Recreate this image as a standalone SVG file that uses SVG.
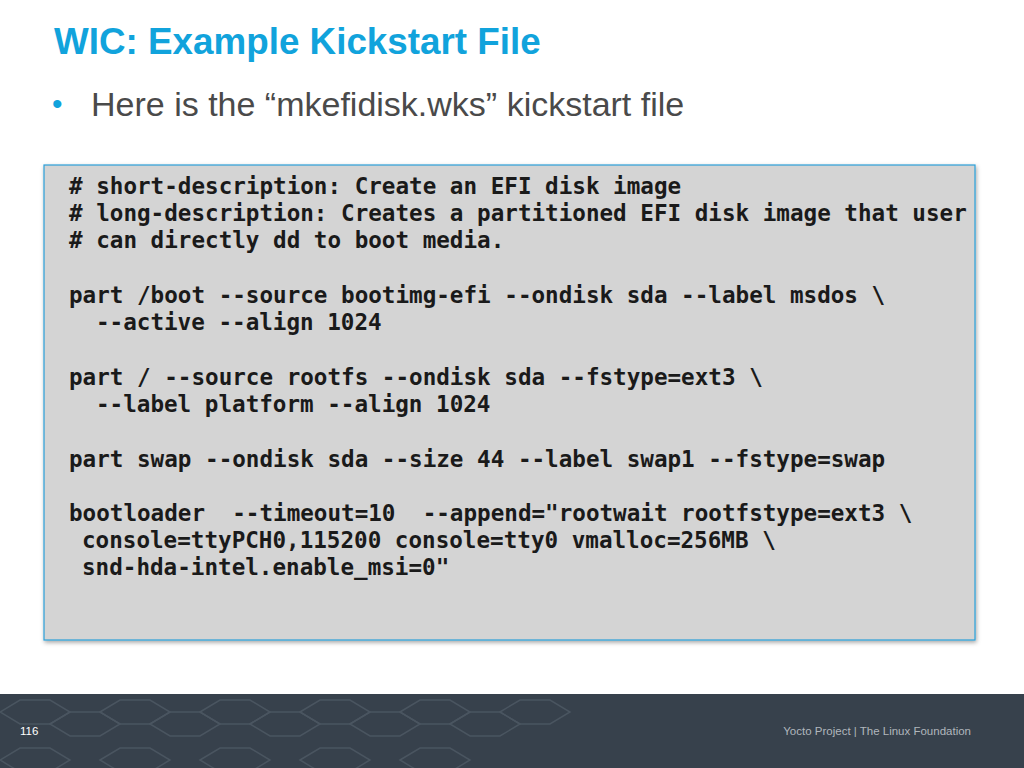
<svg xmlns="http://www.w3.org/2000/svg" width="1024" height="768" viewBox="0 0 1024 768">
<defs>
<style>
.code{font-family:"DejaVu Sans Mono",monospace;font-weight:bold;font-size:22.6px;fill:#1a1a1a;white-space:pre}
.hex{fill:none;stroke:#4a5560;stroke-width:1.5}
</style>
<filter id="sh" x="-5%" y="-5%" width="110%" height="110%"><feDropShadow dx="1" dy="2" stdDeviation="2" flood-opacity="0.35"/></filter>
</defs>
<rect width="1024" height="768" fill="#ffffff"/>
<text x="54" y="54" font-family="Liberation Sans,Arial,sans-serif" font-weight="bold" font-size="36.8" fill="#11a3dc">WIC: Example Kickstart File</text>
<text x="52" y="114" font-family="Liberation Sans,Arial,sans-serif" font-size="30" fill="#11a3dc">•</text>
<text x="91" y="116" font-family="Liberation Sans,Arial,sans-serif" font-size="34" fill="#4a4a4a">Here is the “mkefidisk.wks” kickstart file</text>
<g id="codebox">
<rect x="44" y="165" width="931" height="475" fill="#d4d4d4" stroke="#2b9fd8" stroke-width="1.2" filter="url(#sh)"/>
<text class="code" xml:space="preserve"><tspan x="69" y="194"># short-description: Create an EFI disk image</tspan><tspan x="69" y="221"># long-description: Creates a partitioned EFI disk image that user</tspan><tspan x="69" y="248"># can directly dd to boot media.</tspan><tspan x="69" y="303">part /boot --source bootimg-efi --ondisk sda --label msdos \</tspan><tspan x="96" y="330">--active --align 1024</tspan><tspan x="69" y="385">part / --source rootfs --ondisk sda --fstype=ext3 \</tspan><tspan x="96" y="412">--label platform --align 1024</tspan><tspan x="69" y="467">part swap --ondisk sda --size 44 --label swap1 --fstype=swap</tspan><tspan x="69" y="521">bootloader  --timeout=10  --append="rootwait rootfstype=ext3 \</tspan><tspan x="82" y="548">console=ttyPCH0,115200 console=tty0 vmalloc=256MB \</tspan><tspan x="82" y="575">snd-hda-intel.enable_msi=0"</tspan></text>
</g>
<g id="footer">
<rect x="0" y="694" width="1024" height="74" fill="#37414c"/>
<g class="hex">
<path d="M0,712 l20,-12 h30 l20,12 l-20,12 h-30 z"/>
<path d="M50,724 l20,-12 h30 l20,12 l-20,12 h-30 z"/>
<path d="M100,712 l20,-12 h30 l20,12 l-20,12 h-30 z"/>
<path d="M150,724 l20,-12 h30 l20,12 l-20,12 h-30 z"/>
<path d="M200,712 l20,-12 h30 l20,12 l-20,12 h-30 z"/>
<path d="M250,724 l20,-12 h30 l20,12 l-20,12 h-30 z"/>
<path d="M300,712 l20,-12 h30 l20,12 l-20,12 h-30 z"/>
<path d="M350,724 l20,-12 h30 l20,12 l-20,12 h-30 z"/>
<path d="M400,712 l20,-12 h30 l20,12 l-20,12 h-30 z"/>
<path d="M450,724 l20,-12 h30 l20,12 l-20,12 h-30 z"/>
<path d="M500,712 l20,-12 h30 l20,12 l-20,12 h-30 z"/>
<path d="M0,760 l20,-12 h30 l20,12 l-20,12 h-30 z"/>
<path d="M100,760 l20,-12 h30 l20,12 l-20,12 h-30 z"/>
<path d="M200,760 l20,-12 h30 l20,12 l-20,12 h-30 z"/>
<path d="M300,760 l20,-12 h30 l20,12 l-20,12 h-30 z"/>
<path d="M400,760 l20,-12 h30 l20,12 l-20,12 h-30 z"/>
</g>
<text x="20" y="735" font-family="Liberation Sans,Arial,sans-serif" font-size="11.5" fill="#ffffff">116</text>
<text x="971" y="735" text-anchor="end" font-family="Liberation Sans,Arial,sans-serif" font-size="11.5" fill="#b0b6bc">Yocto Project | The Linux Foundation</text>
</g>
</svg>
